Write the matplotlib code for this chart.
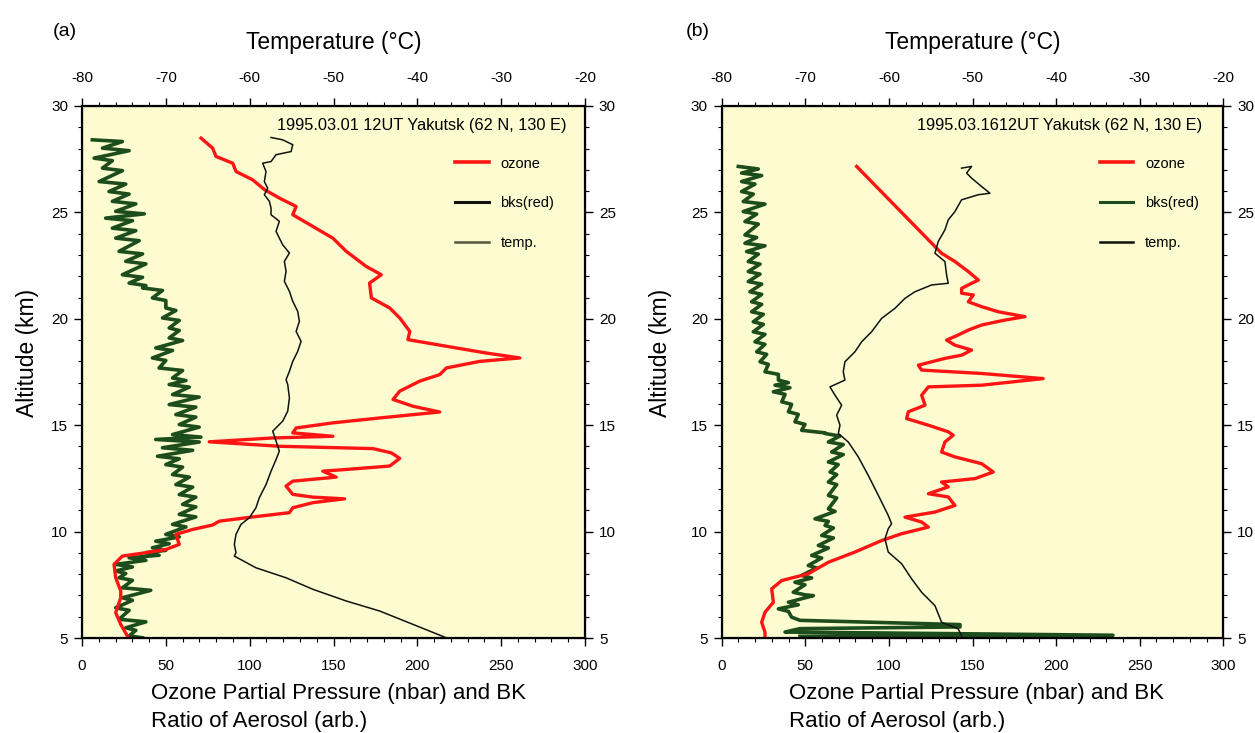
import matplotlib
matplotlib.use("Agg")
import matplotlib.pyplot as plt
from matplotlib.lines import Line2D
from matplotlib.ticker import MultipleLocator

plt.rcParams['font.family'] = ['Liberation Sans', 'DejaVu Sans']
plt.rcParams['axes.unicode_minus'] = False

# ---------------- panel (a) : 1995.03.01 ----------------
alt_o3_a = [28.49, 28.02, 27.63, 27.31, 26.92, 26.53, 26.07, 25.67, 25.28, 24.89, 24.34, 23.79, 23.17, 22.46,
            22.07, 21.68, 20.98, 20.51, 20.04, 19.41, 19.02, 18.71, 18.39, 18.16, 18.00, 17.69, 17.38, 17.07,
            16.60, 16.21, 15.89, 15.62, 15.34, 15.11, 14.87, 14.64, 14.48, 14.40, 14.22, 14.01, 13.90, 13.70,
            13.44, 13.08, 12.92, 12.84, 12.56, 12.37, 12.14, 11.75, 11.62, 11.54, 11.36, 11.12, 10.89, 10.65,
            10.49, 10.31, 10.10, 9.87, 9.40, 9.16, 9.01, 8.85, 8.46, 7.83, 7.21, 6.89, 6.19, 5.64, 5.09]
o3_a = [71.0, 77.9, 79.9, 89.9, 91.9, 101.8, 108.8, 117.8, 127.7, 125.7, 137.7, 149.6, 157.6, 169.5,
        178.5, 171.5, 172.6, 183.5, 189.5, 195.5, 194.4, 217.3, 241.2, 261.2, 237.3, 217.3, 213.4, 201.4,
        189.5, 185.5, 197.4, 213.4, 177.5, 149.6, 127.7, 125.7, 149.6, 113.7, 75.9, 117.8, 173.5, 184.5,
        189.5, 183.5, 157.6, 143.6, 151.6, 125.7, 121.7, 125.7, 137.7, 156.6, 137.7, 125.7, 123.7, 97.8,
        81.9, 77.9, 65.9, 56.0, 58.0, 50.0, 38.1, 24.1, 19.1, 20.1, 23.1, 23.1, 20.1, 23.1, 27.1]

alt_bks_a = [28.41, 28.33, 28.02, 27.90, 27.55, 27.43, 27.08, 26.96, 26.45, 26.33, 25.98, 25.86, 25.52, 25.40,
             25.05, 24.93, 24.73, 24.61, 24.26, 24.14, 23.79, 23.67, 23.17, 23.05, 22.70, 22.58, 22.07, 21.95,
             21.68, 21.56, 21.45, 21.33, 20.98, 20.86, 20.51, 20.39, 20.04, 19.92, 19.57, 19.45, 19.10, 18.98,
             18.63, 18.51, 18.16, 18.04, 17.69, 17.57, 17.22, 17.10, 16.91, 16.79, 16.44, 16.32, 15.97, 15.85,
             15.50, 15.38, 15.03, 14.91, 14.56, 14.44, 14.33, 14.21, 13.94, 13.82, 13.54, 13.42, 13.15, 13.03,
             12.68, 12.56, 12.21, 12.09, 11.74, 11.62, 11.28, 11.16, 10.81, 10.69, 10.34, 10.22, 9.87, 9.75,
             9.55, 9.43, 9.24, 9.12, 9.01, 8.89, 8.77, 8.65, 8.46, 8.34, 8.15, 8.03, 7.83, 7.71, 7.36, 7.24,
             6.89, 6.77, 6.42, 6.30, 5.88, 5.76, 5.48, 5.36, 5.10, 5.01]
bks_a = [6.2, 24.1, 12.2, 28.1, 7.2, 18.1, 12.2, 24.1, 10.2, 26.1, 16.1, 28.1, 18.1, 32.1,
         20.1, 37.1, 14.1, 30.1, 18.1, 32.1, 20.1, 34.1, 22.1, 36.1, 26.1, 38.1, 24.1, 36.1,
         28.1, 38.1, 36.1, 48.0, 42.0, 50.0, 50.0, 56.0, 48.0, 58.0, 52.0, 58.0, 52.0, 60.0,
         44.0, 54.0, 42.0, 50.0, 46.0, 60.0, 54.0, 62.0, 52.0, 64.0, 54.0, 69.9, 52.0, 67.9,
         56.0, 67.9, 58.0, 69.9, 54.0, 70.9, 44.0, 69.9, 48.0, 66.0, 45.0, 58.0, 50.0, 60.0,
         54.0, 64.0, 56.0, 66.0, 58.0, 67.9, 60.0, 67.9, 58.0, 67.9, 54.0, 62.0, 50.0, 58.0,
         44.0, 52.0, 42.0, 50.0, 38.1, 46.0, 28.1, 38.1, 20.1, 30.1, 20.1, 26.1, 22.1, 30.1, 24.1, 41.0,
         24.1, 30.1, 20.1, 28.1, 22.1, 38.1, 26.1, 32.1, 28.1, 36.1]

alt_t_a = [28.52, 28.41, 28.18, 27.86, 27.71, 27.39, 27.31, 26.92, 26.45, 26.14, 25.83, 25.52, 25.20, 24.89,
           24.58, 24.11, 23.79, 23.48, 23.09, 22.70, 22.23, 21.76, 21.29, 20.82, 20.35, 19.88, 19.41, 18.94,
           18.47, 18.00, 17.53, 17.14, 16.91, 16.28, 15.66, 15.19, 14.72, 14.25, 13.78, 13.39, 12.84, 12.21,
           11.59, 11.12, 10.65, 10.34, 9.87, 9.40, 9.01, 8.85, 8.30, 7.83, 7.29, 6.74, 6.27, 5.64, 5.01]
temp_a = [-57.45, -56.06, -54.86, -55.06, -56.85, -57.45, -58.45, -58.05, -58.25, -57.85, -58.25, -57.65, -57.45,
          -57.45, -56.46, -56.85, -56.46, -56.06, -55.26, -55.86, -55.66, -55.86, -55.26, -54.86, -54.27, -54.07,
          -54.46, -53.87, -54.27, -54.86, -55.26, -55.66, -55.46, -55.26, -55.46, -56.06, -57.25, -56.85, -56.46,
          -56.85, -57.45, -58.05, -58.85, -59.25, -60.04, -61.04, -61.63, -61.83, -61.63, -61.83, -59.25, -55.66,
          -52.47, -48.49, -44.50, -40.52, -36.54]

# ---------------- panel (b) : 1995.03.16 ----------------
alt_o3_b = [27.16, 23.39, 23.08, 22.69, 22.22, 21.82, 21.67, 21.43, 21.20, 21.12, 20.80, 20.57, 20.33, 20.10,
            19.94, 19.71, 19.47, 19.24, 19.00, 18.76, 18.53, 18.29, 18.14, 17.82, 17.59, 17.43, 17.19, 16.88,
            16.80, 16.41, 15.94, 15.63, 15.31, 15.00, 14.69, 14.53, 14.21, 13.74, 13.51, 13.19, 12.80, 12.49,
            12.33, 12.10, 11.78, 11.63, 11.23, 10.92, 10.68, 10.45, 10.21, 9.90, 9.58, 9.04, 8.56, 8.02, 7.70,
            7.31, 6.68, 6.21, 5.74, 5.27, 5.00]
o3_b = [80.7, 127.6, 131.5, 139.5, 147.5, 153.5, 149.5, 143.5, 143.5, 150.5, 147.5, 155.5, 165.4, 181.4,
        169.4, 155.5, 147.5, 141.5, 134.5, 139.5, 149.5, 143.5, 133.5, 117.6, 119.6, 155.5, 192.3, 155.5,
        123.6, 119.6, 121.6, 111.6, 110.6, 123.6, 135.5, 138.5, 133.5, 131.5, 139.5, 155.5, 162.4, 151.5,
        131.5, 135.5, 123.6, 135.5, 139.5, 127.6, 109.6, 119.6, 123.6, 107.6, 95.7, 79.7, 63.8, 51.8, 35.9,
        29.9, 30.9, 25.9, 23.9, 25.9, 25.9]

alt_bks_b = [27.16, 27.04, 26.85, 26.73, 26.45, 26.33, 25.98, 25.86, 25.51, 25.39, 25.04, 24.92, 24.57, 24.45,
             23.94, 23.82, 23.55, 23.43, 23.16, 23.04, 22.69, 22.57, 22.22, 22.10, 21.75, 21.63, 21.27, 21.15,
             20.80, 20.68, 20.33, 20.21, 19.86, 19.74, 19.39, 19.27, 18.92, 18.80, 18.45, 18.33, 17.98, 17.86,
             17.51, 17.39, 17.12, 17.00, 16.88, 16.76, 16.57, 16.45, 16.10, 15.98, 15.63, 15.51, 15.16, 15.04,
             14.76, 14.64, 14.61, 14.49, 14.21, 14.09, 13.74, 13.62, 13.27, 13.15, 12.80, 12.68, 12.33, 12.21,
             11.70, 11.58, 11.07, 10.95, 10.60, 10.48, 10.29, 10.17, 9.82, 9.70, 9.35, 9.23, 8.88, 8.76,
             8.41, 8.29, 7.94, 7.82, 7.62, 7.50, 7.15, 7.03, 6.99, 6.68, 6.56, 6.37, 6.25,
             5.98, 5.83, 5.63, 5.52, 5.44, 5.28, 5.13, 5.08]
bks_b = [9.95, 21.9, 11.9, 23.9, 11.9, 19.9, 11.9, 18.9, 12.9, 25.9, 12.9, 20.9, 13.9, 21.9,
         13.9, 20.9, 13.9, 25.9, 14.9, 21.9, 15.9, 22.9, 15.9, 22.9, 15.9, 23.9, 16.9, 23.9,
         17.9, 23.9, 17.9, 24.9, 18.9, 24.9, 18.9, 25.9, 19.9, 25.9, 20.9, 26.9, 22.9, 27.9,
         25.9, 33.9, 33.9, 39.9, 31.9, 40.8, 30.9, 37.9, 35.9, 41.8, 39.9, 45.8, 43.8, 49.8,
         47.8, 61.8, 61.8, 70.7, 63.8, 72.7, 65.8, 72.7, 63.8, 69.7, 64.8, 68.8, 63.8, 68.8,
         63.8, 68.8, 63.8, 67.8, 55.8, 63.8, 61.8, 66.8, 59.8, 66.8, 57.8, 63.8, 53.8, 59.8,
         51.8, 56.8, 47.8, 53.8, 43.8, 49.8, 42.8, 49.8, 54.8, 39.9, 45.8, 33.9, 39.9,
         41.8, 46.8, 142.5, 142.5, 46.8, 37.9, 234.0, 46.8]

alt_t_b = [27.08, 27.16, 26.85, 26.61, 26.22, 25.90, 25.83, 25.59, 25.04, 24.65, 24.18, 23.63, 23.08, 22.69,
           22.06, 21.67, 21.59, 21.27, 20.96, 20.49, 20.02, 19.39, 18.92, 18.45, 17.98, 17.51, 17.12, 16.80,
           16.41, 15.94, 15.47, 15.00, 14.61, 14.21, 13.51, 12.64, 12.02, 11.39, 10.76, 10.37, 10.13, 9.66,
           9.04, 8.49, 7.78, 7.15, 6.52, 5.74, 5.43, 5.11]
temp_b = [-51.31, -50.11, -50.71, -50.11, -48.92, -47.92, -49.31, -51.31, -52.10, -52.90, -53.30, -54.10, -54.49,
          -53.30, -53.10, -52.90, -54.89, -56.89, -58.08, -59.28, -60.87, -62.07, -63.26, -64.06, -65.26, -65.46,
          -65.26, -67.05, -66.45, -65.65, -66.25, -65.85, -66.05, -64.86, -63.66, -62.47, -61.67, -60.87, -60.08,
          -59.68, -60.08, -60.47, -60.08, -58.48, -57.28, -56.09, -54.49, -53.70, -51.71, -51.31]

legend_labels = ['ozone', 'bks(red)', 'temp.']

BG = '#fdfcd0'
RED = '#ff1414'
GREEN = '#1d4d1d'
BLACK = '#111111'

fig = plt.figure(figsize=(12.55, 7.33), dpi=100)


def panel(rect, tag, tag_x, date, date_x, o3, alt_o3, bks, alt_bks, temp, alt_t,
          leg_colors, leg_x, xlab_x, ylab_x):
    ax = fig.add_axes(rect)
    ax.set_facecolor(BG)
    ax.plot(bks, alt_bks, color=GREEN, lw=2.6)
    ax.plot(o3, alt_o3, color=RED, lw=2.4)
    ax.set_xlim(0, 300)
    ax.set_ylim(5, 30)
    ax.set_xticks(range(0, 301, 50))
    ax.xaxis.set_minor_locator(MultipleLocator(10))
    ax.set_yticks(range(5, 31, 5))
    ax.yaxis.set_minor_locator(MultipleLocator(1))
    ax.tick_params(which='both', direction='out', labelsize=11)
    ax.tick_params(axis='y', which='both', left=True, right=True, labelleft=True, labelright=True)
    ax.tick_params(axis='y', pad=4)
    ax.tick_params(axis='x', pad=9)
    ax.tick_params(which='major', length=6, width=1)
    ax.tick_params(which='minor', length=3, width=0.8)
    for s in ax.spines.values():
        s.set_linewidth(1.6)

    ax.set_xlabel('Ozone Partial Pressure (nbar) and BK\nRatio of Aerosol (arb.)',
                  fontsize=16, multialignment='left', linespacing=1.42, va='top')
    ax.xaxis.set_label_coords(xlab_x, -0.085)
    ax.set_ylabel('Altitude (km)', fontsize=16.5)
    ax.yaxis.set_label_coords(ylab_x, 0.535)

    tw = ax.twiny()
    tw.plot(temp, alt_t, color=BLACK, lw=1.1)
    tw.set_xlim(-80, -20)
    tw.set_xticks(range(-80, -19, 10))
    tw.xaxis.set_minor_locator(MultipleLocator(2))
    tw.tick_params(which='both', direction='out', labelsize=11, pad=9)
    tw.tick_params(which='major', length=6, width=1)
    tw.tick_params(which='minor', length=3, width=0.8)
    tw.set_xlabel('Temperature (°C)', fontsize=16.5, labelpad=16)

    tw.text(date_x, 0.964, date, transform=tw.transAxes, ha='right', va='center', fontsize=11.8)

    handles = [Line2D([], [], color=c, lw=w) for c, w in zip(leg_colors, [2.6, 2.2, 1.8])]
    tw.legend(handles, legend_labels, loc='upper left', bbox_to_anchor=(leg_x, 0.905),
              frameon=False, fontsize=10.5, handlelength=2.3, handletextpad=0.8,
              labelspacing=1.78, borderpad=0, borderaxespad=0)

    fig.text(tag_x, 1 - 31 / 733, tag, fontsize=14, va='center')


panel([82 / 1255, 0.1296, 503 / 1255, 0.7258], '(a)', 53 / 1255,
      '1995.03.01 12UT Yakutsk (62 N, 130 E)', 0.964,
      o3_a, alt_o3_a, bks_a, alt_bks_a, temp_a, alt_t_a,
      [RED, BLACK, '#55553a'], 0.742, 0.509, -0.085)

panel([721.7 / 1255, 0.1296, 501.6 / 1255, 0.7258], '(b)', 686 / 1255,
      '1995.03.1612UT Yakutsk (62 N, 130 E)', 0.9575,
      o3_b, alt_o3_b, bks_b, alt_bks_b, temp_b, alt_t_b,
      [RED, GREEN, BLACK], 0.754, 0.507, -0.099)

fig.savefig('out.png', dpi=100, facecolor='white')
